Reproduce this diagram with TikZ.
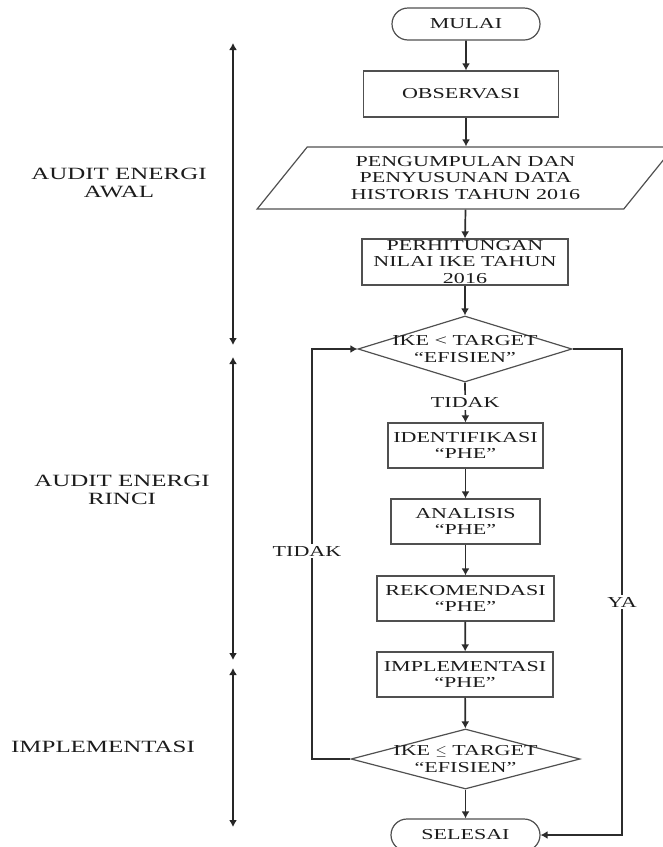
\documentclass[tikz,border=0pt]{standalone}
\usepackage{fontspec}
\setmainfont{Liberation Serif}[FakeStretch=1.45]
\usetikzlibrary{shapes.geometric,shapes.misc,arrows.meta}
\definecolor{ln}{HTML}{505050}
\definecolor{ar}{HTML}{2c2c2c}
\definecolor{tx}{HTML}{1c1c1c}
\begin{document}
\begin{tikzpicture}[x=1pt,y=-1pt,
 txt/.style={font=\fontsize{15.2}{16.5}\selectfont, text=tx, align=center, inner sep=0pt},
 term/.style={draw=ln, line width=1.2pt, rounded rectangle, minimum height=32pt, inner sep=0pt, txt},
 box/.style={draw=ln, line width=1.2pt, rectangle, inner sep=0pt, txt},
 dia/.style={draw=ln, line width=1.2pt, diamond, inner sep=0pt},
 flow/.style={draw=ar, line width=1.7pt, -{Latex[length=7pt,width=8pt]}},
 tl/.style={draw=black!85, line width=2.2pt, {Latex[length=7pt,width=8pt]}-{Latex[length=7pt,width=8pt]}},
 lbl/.style={txt, fill=white, inner sep=2pt},
 side/.style={txt, font=\fontsize{17.2}{18.5}\selectfont}
]
\useasboundingbox (0,0) rectangle (663,847);
\clip (0,0) rectangle (663,847);

% flowchart nodes
\node[term, minimum width=148pt] (mulai) at (466,24) {MULAI};
\node[box, minimum width=195pt, minimum height=46pt] (obs) at (461,94) {OBSERVASI};
\node[draw=ln, line width=1.2pt, trapezium, trapezium left angle=50, trapezium right angle=130,
      trapezium stretches=true, minimum width=417pt, minimum height=62pt, txt] (para) at (465.5,178)
      {PENGUMPULAN DAN\\PENYUSUNAN DATA\\HISTORIS TAHUN 2016};
\node[box, minimum width=206pt, minimum height=46pt] (perh) at (465,262) {PERHITUNGAN\\NILAI IKE TAHUN\\2016};
\node[dia, minimum width=214pt, minimum height=66pt] (d1) at (465,349) {};
\node[txt] (d1t) at (465,349) {IKE < TARGET\\“EFISIEN”};
\node[box, minimum width=155pt, minimum height=45pt] (ident) at (465.5,445.5) {IDENTIFIKASI\\“PHE”};
\node[box, minimum width=149pt, minimum height=45pt] (anal) at (465.5,521.5) {ANALISIS\\“PHE”};
\node[box, minimum width=177pt, minimum height=45pt] (rek) at (465.5,598.5) {REKOMENDASI\\“PHE”};
\node[box, minimum width=176pt, minimum height=45pt] (impl) at (465,674.5) {IMPLEMENTASI\\“PHE”};
\node[dia, minimum width=229pt, minimum height=60pt] (d2) at (465.5,759) {};
\node[txt] (d2t) at (465.5,759) {IKE \(\leq\) TARGET\\“EFISIEN”};
\node[term, minimum width=149pt] (sel) at (465.5,835) {SELESAI};

% connectors
\draw[flow] (mulai) -- (mulai |- obs.north);
\draw[flow] (mulai |- obs.south) -- (mulai |- para.north);
\draw[flow] (para.south) -- (perh.north);
\draw[flow] (perh.south) -- (d1.north);
\draw[flow] (d1.south) -- node[lbl] (tidak1) {TIDAK} (ident.north);
\draw[flow] (ident) -- (anal);
\draw[flow] (anal) -- (rek);
\draw[flow] (rek) -- (impl);
\draw[flow] (impl) -- (d2);
\draw[flow] (d2) -- (sel);
\coordinate (loopx) at (312,0);
\draw[flow] (d2.west) -- (loopx |- d2.west) -- (loopx |- d1.west) -- (d1.west);
\node[lbl] (tidak2) at (307,551) {TIDAK};
\coordinate (yax) at (622,0);
\draw[flow] (d1.east) -- (yax |- d1.east) -- (yax |- sel.east) -- (sel.east);
\node[lbl] (ya) at (622,602) {YA};

% phase arrows
\coordinate (p1a) at (233,43);
\coordinate (p1b) at (233,345);
\coordinate (p2a) at (233,357);
\coordinate (p2b) at (233,660);
\coordinate (p3a) at (233,668);
\coordinate (p3b) at (233,827);
\draw[tl] (p1a) -- (p1b);
\draw[tl] (p2a) -- (p2b);
\draw[tl] (p3a) -- (p3b);

\node[side] (awal) at (119,183) {AUDIT ENERGI\\AWAL};
\node[side] (rinci) at (122,490) {AUDIT ENERGI\\RINCI};
\node[side] (impll) at (103,747) {IMPLEMENTASI};
\end{tikzpicture}
\end{document}
